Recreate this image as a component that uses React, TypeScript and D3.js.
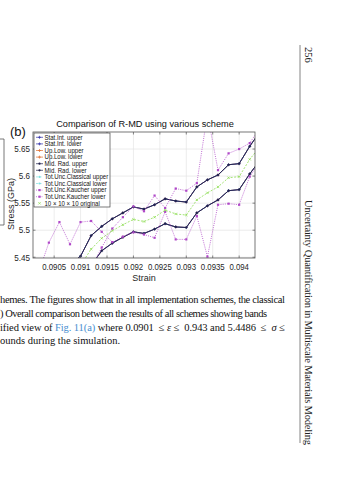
import React from 'react';
import * as d3 from 'd3';

// strain points (every 0.0002), the view is clipped to 0.0901..0.0943
const strain = [0.0900, 0.0902, 0.0904, 0.0906, 0.0908, 0.0910, 0.0912, 0.0914, 0.0916, 0.0918, 0.0920, 0.0922,
  0.0924, 0.0926, 0.0928, 0.0930, 0.0932, 0.0934, 0.0936, 0.0938, 0.0940, 0.0942, 0.0944];

const midRadUpper = [5.395, 5.405, 5.415, 5.425, 5.437, 5.452, 5.490, 5.507, 5.521, 5.532, 5.543, 5.539,
  5.547, 5.558, 5.554, 5.552, 5.580, 5.593, 5.602, 5.621, 5.623, 5.655, 5.683];
const midRadLower = [5.360, 5.370, 5.380, 5.390, 5.400, 5.415, 5.435, 5.462, 5.476, 5.487, 5.497, 5.494,
  5.502, 5.512, 5.506, 5.505, 5.532, 5.545, 5.556, 5.573, 5.575, 5.604, 5.630];
const statIntUpper = [5.395, 5.405, 5.415, 5.425, 5.437, 5.452, 5.490, 5.507, 5.521, 5.532, 5.543, 5.539,
  5.547, 5.558, 5.554, 5.552, 5.580, 5.593, 5.602, 5.621, 5.623, 5.655, 5.683];
const statIntLower = [5.360, 5.370, 5.380, 5.390, 5.400, 5.415, 5.435, 5.462, 5.476, 5.487, 5.497, 5.494,
  5.502, 5.512, 5.506, 5.505, 5.532, 5.545, 5.556, 5.573, 5.575, 5.604, 5.630];
const upLowUpper = statIntUpper;
const upLowLower = statIntLower;
const classicalUpper = midRadUpper;
const classicalLower = midRadLower;
const kaucherUpper = [5.300, 5.320, 5.340, 5.360, 5.380, 5.400, 5.430, 5.468, 5.503, 5.524, 5.544, 5.535,
  5.564, 5.541, 5.577, 5.573, 5.587, 5.715, 5.611, 5.642, 5.650, 5.661, 5.690];
const kaucherLower = [5.360, 5.420, 5.477, 5.515, 5.474, 5.515, 5.517, 5.497, 5.478, 5.488, 5.496, 5.492,
  5.486, 5.534, 5.483, 5.483, 5.526, 5.451, 5.547, 5.549, 5.547, 5.599, 5.628];
const original = [5.380, 5.390, 5.400, 5.410, 5.420, 5.435, 5.465, 5.485, 5.499, 5.510, 5.520, 5.516,
  5.524, 5.537, 5.530, 5.528, 5.556, 5.569, 5.580, 5.597, 5.599, 5.631, 5.655];

const xTicks = [0.0905, 0.091, 0.0915, 0.092, 0.0925, 0.093, 0.0935, 0.094];
const yTicks = [5.45, 5.5, 5.55, 5.6, 5.65];

const legendLabels = ['Stat.Int. upper', 'Stat.Int. lower', 'Up.Low. upper', 'Up.Low. lower', 'Mid. Rad. upper',
  'Mid. Rad. lower', 'Tot.Unc.Classical upper', 'Tot.Unc.Classical lower', 'Tot.Unc.Kaucher upper',
  'Tot.Unc.Kaucher lower', '10 \u00d7 10 \u00d7 10 original'];

const caption = [
  'hemes. The figures show that in all implementation schemes, the classical',
  ') Overall comparison between the results of all schemes showing bands',
  'ified view of ',
  'ounds during the simulation.',
];

const sans = '"Liberation Sans", Arial, sans-serif';
const serif = '"Liberation Serif", "Times New Roman", serif';

const plot = { left: 33, right: 255, top: 132, bottom: 258 };

type Style = { color: string; dash?: string; width: number; marker: string };

const series: { label: string; values: number[]; style: Style }[] = [
  { label: legendLabels[0], values: statIntUpper, style: { color: '#3030a8', width: 0.8, marker: 'plus' } },
  { label: legendLabels[1], values: statIntLower, style: { color: '#3030a8', width: 0.8, marker: 'plus' } },
  { label: legendLabels[2], values: upLowUpper, style: { color: '#e07030', width: 0.8, marker: 'plus' } },
  { label: legendLabels[3], values: upLowLower, style: { color: '#e07030', width: 0.8, marker: 'plus' } },
  { label: legendLabels[4], values: midRadUpper, style: { color: '#22224a', width: 0.9, marker: 'dot' } },
  { label: legendLabels[5], values: midRadLower, style: { color: '#22224a', width: 0.9, marker: 'dot' } },
  { label: legendLabels[6], values: classicalUpper, style: { color: '#7fe0e0', dash: '2,1.5', width: 0.8, marker: 'dot' } },
  { label: legendLabels[7], values: classicalLower, style: { color: '#7fe0e0', dash: '2,1.5', width: 0.8, marker: 'dot' } },
  { label: legendLabels[8], values: kaucherUpper, style: { color: '#b048c8', dash: '1,1.2', width: 0.8, marker: 'square' } },
  { label: legendLabels[9], values: kaucherLower, style: { color: '#b048c8', dash: '1,1.2', width: 0.8, marker: 'square' } },
  { label: legendLabels[10], values: original, style: { color: '#8cdc50', dash: '2,1.5', width: 0.8, marker: 'cross' } },
];

// draw order so the dark bounds sit on top of the overlapped ones
const drawOrder = [2, 3, 6, 7, 0, 1, 4, 5, 8, 9, 10];

function Marker({ x, y, s }: { x: number; y: number; s: Style }) {
  if (s.marker === 'dot') return <circle cx={x} cy={y} r={1.1} fill={s.color} />;
  if (s.marker === 'square') return <rect x={x - 1.1} y={y - 1.1} width={2.2} height={2.2} fill={s.color} />;
  if (s.marker === 'plus')
    return <path d={`M${x - 1.5},${y}H${x + 1.5}M${x},${y - 1.5}V${y + 1.5}`} stroke={s.color} strokeWidth={0.7} />;
  return <path d={`M${x - 1.2},${y - 1.2}L${x + 1.2},${y + 1.2}M${x - 1.2},${y + 1.2}L${x + 1.2},${y - 1.2}`} stroke={s.color} strokeWidth={0.7} />;
}

export default function App() {
  const x = d3.scaleLinear().domain([0.0901, 0.0943]).range([plot.left, plot.right]);
  const y = d3.scaleLinear().domain([5.4486, 5.6815]).range([plot.bottom, plot.top]);
  const line = d3.line<number>().x((_, i) => x(strain[i])).y((d) => y(d));

  return (
    <svg width={359} height={480} style={{ position: 'absolute', left: 0, top: 0, background: '#fff' }}>
      <defs>
        <clipPath id="plotclip">
          <rect x={plot.left} y={plot.top} width={plot.right - plot.left} height={plot.bottom - plot.top} />
        </clipPath>
      </defs>

      {/* remains of panel (a) at the left edge */}
      <path d="M0,139H4V225H0" fill="none" stroke="#555" strokeWidth={0.8} />

      {/* grid */}
      {xTicks.map((t) => (
        <line key={'gx' + t} x1={x(t)} x2={x(t)} y1={plot.top} y2={plot.bottom} stroke="#e4e4e4" strokeWidth={0.7} />
      ))}
      {yTicks.map((t) => (
        <line key={'gy' + t} x1={plot.left} x2={plot.right} y1={y(t)} y2={y(t)} stroke="#e4e4e4" strokeWidth={0.7} />
      ))}

      <g clipPath="url(#plotclip)">
        {drawOrder.map((k) => {
          const s = series[k];
          return (
            <g key={'s' + k}>
              <path d={line(s.values) || ''} fill="none" stroke={s.style.color} strokeWidth={s.style.width}
                strokeDasharray={s.style.dash} />
              {s.values.map((v, i) => (
                <Marker key={i} x={x(strain[i])} y={y(v)} s={s.style} />
              ))}
            </g>
          );
        })}
      </g>

      {/* axes box and ticks */}
      <rect x={plot.left} y={plot.top} width={plot.right - plot.left} height={plot.bottom - plot.top}
        fill="none" stroke="#555" strokeWidth={0.8} />
      {xTicks.map((t) => (
        <g key={'tx' + t}>
          <line x1={x(t)} x2={x(t)} y1={plot.bottom} y2={plot.bottom - 2.5} stroke="#555" strokeWidth={0.7} />
          <line x1={x(t)} x2={x(t)} y1={plot.top} y2={plot.top + 2.5} stroke="#555" strokeWidth={0.7} />
          <text transform={`translate(${x(t)},${plot.bottom + 11.5}) scale(0.85,1)`} textAnchor="middle"
            fontFamily={sans} fontSize={9.2} fill="#262626">
            {String(t)}
          </text>
        </g>
      ))}
      {yTicks.map((t) => (
        <g key={'ty' + t}>
          <line x1={plot.left} x2={plot.left + 2.5} y1={y(t)} y2={y(t)} stroke="#555" strokeWidth={0.7} />
          <line x1={plot.right} x2={plot.right - 2.5} y1={y(t)} y2={y(t)} stroke="#555" strokeWidth={0.7} />
          <text transform={`translate(${plot.left - 3},${y(t) + 3.3}) scale(0.88,1)`} textAnchor="end"
            fontFamily={sans} fontSize={9.2} fill="#262626">
            {String(t)}
          </text>
        </g>
      ))}

      <text x={145} y={127} textAnchor="middle" fontFamily={sans} fontSize={9.2} fill="#111">
        Comparison of R-MD using various scheme
      </text>
      <text x={10} y={136} fontFamily={sans} fontSize={13} fill="#111">(b)</text>
      <text x={144} y={281} textAnchor="middle" fontFamily={sans} fontSize={9} fill="#262626">Strain</text>
      <text transform="translate(14,204) rotate(-90)" textAnchor="middle" fontFamily={sans} fontSize={9} fill="#262626">
        Stress (GPa)
      </text>

      {/* legend */}
      <rect x={plot.left + 1} y={133} width={76} height={74} fill="#fff" stroke="#444" strokeWidth={0.7} />
      {series.map((s, i) => {
        const ly = 137.3 + i * 6.6;
        return (
          <g key={'lg' + i}>
            {i < 10 && (
              <line x1={36} x2={43} y1={ly} y2={ly} stroke={s.style.color} strokeWidth={0.7} strokeDasharray={s.style.dash} />
            )}
            <Marker x={39.5} y={ly} s={s.style} />
            <text transform={`translate(44.5,${ly + 2.2}) scale(0.92,1)`} fontFamily={sans} fontSize={6.6} fill="#111">
              {s.label}
            </text>
          </g>
        );
      })}

      {/* caption fragment */}
      <g fontFamily={serif} fontSize={10.5} fill="#111">
        <text x={0} y={303} textLength={285} lengthAdjust="spacing">{caption[0]}</text>
        <text x={0} y={317} textLength={267} lengthAdjust="spacing">{caption[1]}</text>
        <text x={0} y={331} textLength={285} lengthAdjust="spacing">
          {caption[2]}
          <tspan fill="#4a8fd0">Fig. 11(a)</tspan>
          {' where 0.0901 \u00a0\u2264 '}
          <tspan fontStyle="italic">{'\u03b5'}</tspan>
          {' \u2264 \u00a00.943 and 5.4486 \u00a0\u2264 \u00a0'}
          <tspan fontStyle="italic">{'\u03c3'}</tspan>
          {' \u2264'}
        </text>
        <text x={0} y={344}>{caption[3]}</text>
      </g>

      {/* running head, rotated page */}
      <line x1={300} x2={300} y1={45} y2={443} stroke="#666" strokeWidth={0.8} />
      <text transform="translate(305,47) rotate(90)" fontFamily={serif} fontSize={10.5} fill="#222">256</text>
      <text transform="translate(305,200) rotate(90)" fontFamily={serif} fontSize={10.5} fill="#222"
        textLength={245} lengthAdjust="spacing">
        Uncertainty Quantification in Multiscale Materials Modeling
      </text>
    </svg>
  );
}
